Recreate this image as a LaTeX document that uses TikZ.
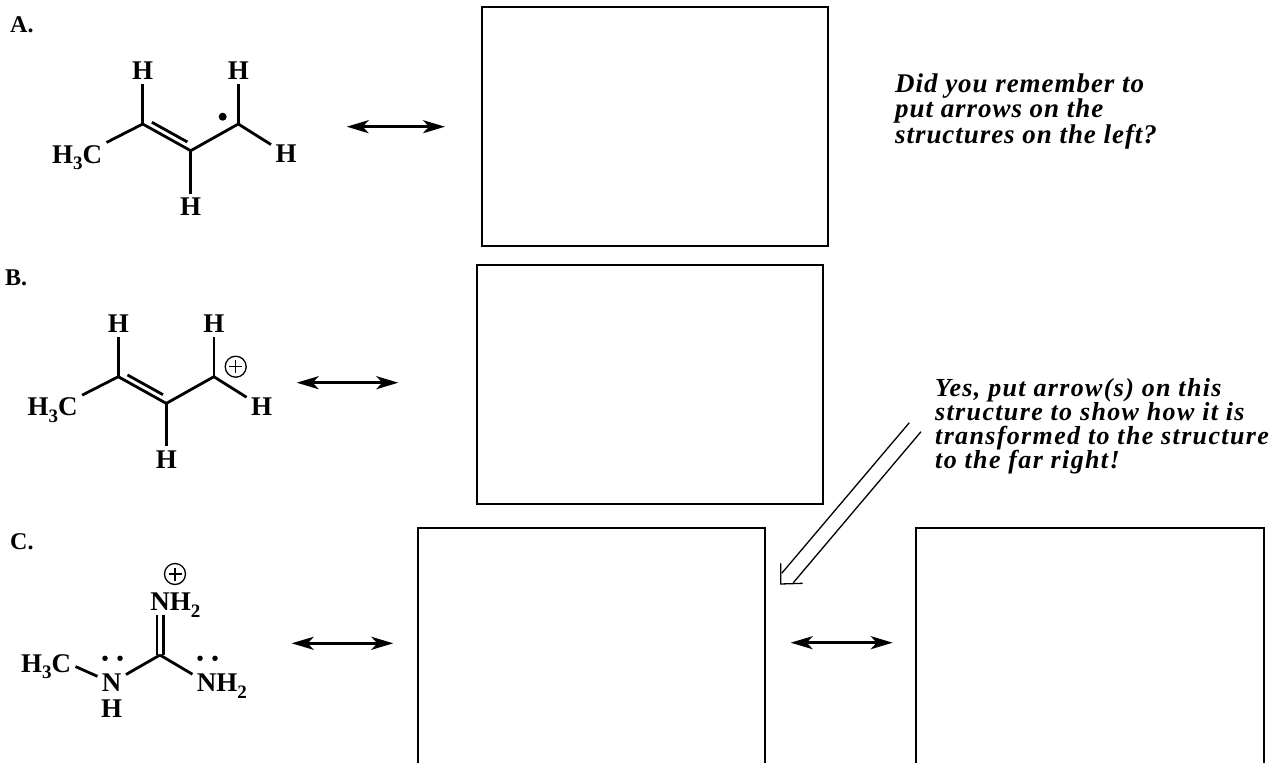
\documentclass[tikz,border=0pt]{standalone}
\usepackage{fontspec}
\setmainfont{Liberation Serif}
\newfontfamily\notefnt[LetterSpace=3.5]{Liberation Serif}
\newfontfamily\notefntb[LetterSpace=5.2]{Liberation Serif}
\usetikzlibrary{arrows.meta,calc}
\newcommand\chsub[1]{\raisebox{-0.25em}{\fontsize{19}{19}\selectfont #1}}
\tikzset{
  atom/.style={inner sep=0pt, outer sep=4.5pt, font=\fontsize{27}{27}\selectfont\bfseries},
  bond/.style={line width=2.8pt},
  resarrow/.style={line width=2.7pt, {Stealth[length=22pt,width=13pt,inset=6pt]}-{Stealth[length=22pt,width=13pt,inset=6pt]}},
  answerbox/.style={line width=2.2pt},
  hollowline/.style={line width=1.3pt},
  secname/.style={inner sep=0pt, anchor=base west, font=\fontsize{24}{24}\selectfont\bfseries},
  notetext/.style={inner sep=0pt, anchor=base west, font=\notefnt\bfseries\itshape\fontsize{27}{27}\selectfont},
  notetextb/.style={inner sep=0pt, anchor=base west, font=\notefntb\bfseries\itshape\fontsize{26}{26}\selectfont},
  lpdot/.style={circle, fill, inner sep=0pt, minimum size=5.5pt},
  raddot/.style={circle, fill, inner sep=0pt, minimum size=8pt},
  plusc/.style={circle, draw, line width=1.3pt, minimum size=21pt, inner sep=0pt,
    path picture={\draw[line width=1.3pt] ($(path picture bounding box.center)+(-6.5pt,0pt)$) -- ($(path picture bounding box.center)+(6.5pt,0pt)$);
                  \draw[line width=1.3pt] ($(path picture bounding box.center)+(0pt,-6.5pt)$) -- ($(path picture bounding box.center)+(0pt,6.5pt)$);}}
}
\begin{document}
\begin{tikzpicture}[x=1pt,y=-1pt]
\useasboundingbox (0,0) rectangle (1277,763);
\fill[white] (0,0) rectangle (1277,763);

% section labels
\node[secname] (labA) at (10,32.3) {A.};
\node[secname] (labB) at (5,285) {B.};
\node[secname] (labC) at (10,549) {C.};

% ---------- structure A ----------
\coordinate (a1) at (142.7,124);
\coordinate (a2) at (190.7,150.7);
\coordinate (a3) at (238.3,124);
\node[atom] (aHtl) at (142.7,70.7) {H};
\node[atom] (aHtr) at (238.3,70.7) {H};
\node[atom, anchor=base] (aMe) at (77,163) {H\chsub{3}C};
\node[atom] (aHr) at (286,154) {H};
\node[atom] (aHb) at (190.7,207) {H};
\draw[bond] (a1) -- (aHtl);
\draw[bond] (a1) -- (aMe);
\draw[bond] (a1) -- (a2);
\draw[bond] ($(a1)!0.13!(a2)+(2.92,-5.24)$) -- ($(a1)!0.87!(a2)+(2.92,-5.24)$);
\draw[bond] (a2) -- (aHb);
\draw[bond] (a2) -- (a3);
\draw[bond] (a3) -- (aHtr);
\draw[bond] (a3) -- (aHr);
\node[raddot] (aRad) at (222.7,116.7) {};
\coordinate (aArL) at (346.7,126.7);
\coordinate (aArR) at (445,126.7);
\draw[resarrow] (aArL) -- (aArR);

% ---------- structure B ----------
\begin{scope}[shift={(-24.4,252.7)}]
\coordinate (b1) at (142.7,124);
\coordinate (b2) at (190.7,150.7);
\coordinate (b3) at (238.3,124);
\node[atom] (bHtl) at (142.7,70.7) {H};
\node[atom] (bHtr) at (238.3,70.7) {H};
\node[atom, anchor=base] (bMe) at (77,163) {H\chsub{3}C};
\node[atom] (bHr) at (286,154) {H};
\node[atom] (bHb) at (190.7,207) {H};
\draw[bond] (b1) -- (bHtl);
\draw[bond] (b1) -- (bMe);
\draw[bond] (b1) -- (b2);
\draw[bond] ($(b1)!0.13!(b2)+(2.92,-5.24)$) -- ($(b1)!0.87!(b2)+(2.92,-5.24)$);
\draw[bond] (b2) -- (bHb);
\draw[bond] (b2) -- (b3);
\draw[bond] (b3) -- (bHtr);
\draw[bond] (b3) -- (bHr);
\end{scope}
\node[plusc] (bPlus) at (235.7,366.7) {};
\coordinate (bArL) at (296.7,382.7);
\coordinate (bArR) at (398.3,382.7);
\draw[resarrow] (bArL) -- (bArR);

% ---------- structure C ----------
\coordinate (cC) at (160,655);
\node[atom] (cNt) at (160,601.7) {N};
\node[atom, anchor=base west, outer sep=0pt] (cNtH) at ($(cNt.base east)+(-4.5,0)$) {H\chsub{2}};
\node[plusc] (cPlus) at (175,574) {};
\node[atom] (cNl) at (111.7,682.7) {N};
\node[atom] (cNlH) at (111.7,708.3) {H};
\node[atom] (cNr) at (206.7,682.7) {N};
\node[atom, anchor=base west, outer sep=0pt] (cNrH) at ($(cNr.base east)+(-4.5,0)$) {H\chsub{2}};
\node[atom, anchor=base] (cMe) at (46,672) {H\chsub{3}C};
\draw[bond, line width=2.5pt, double, double distance=4pt] (cC) -- (cNt);
\draw[bond] (cC) -- (cNl);
\draw[bond] (cC) -- (cNr);
\draw[bond] (cMe.east) -- (cNl);
\node[lpdot] (cLp1) at (105,658.3) {};
\node[lpdot] (cLp2) at (120,658.3) {};
\node[lpdot] (cLp3) at (200,658.3) {};
\node[lpdot] (cLp4) at (215,658.3) {};
\coordinate (cArL) at (291.7,643.3);
\coordinate (cArR) at (393.3,643.3);
\draw[resarrow] (cArL) -- (cArR);
\coordinate (dArL) at (790.7,642.7);
\coordinate (dArR) at (892.7,642.7);
\draw[resarrow] (dArL) -- (dArR);

% ---------- answer boxes ----------
\draw[answerbox] (482,7) rectangle (828,246);
\draw[answerbox] (477,265) rectangle (823,504);
\draw[answerbox] (418,763) -- (418,528) -- (765,528) -- (765,763);
\draw[answerbox] (916,763) -- (916,528) -- (1264,528) -- (1264,763);

% ---------- hollow arrow ----------
\coordinate (hU1) at (909.3,422.7);
\coordinate (hU2) at (781.7,573.3);
\coordinate (hL1) at (921,431.7);
\coordinate (hL2) at (793.3,582.7);
\coordinate (hA1) at (780.7,563.3);
\coordinate (hTip) at (780.7,584);
\coordinate (hA2) at (802.7,583.3);
\draw[hollowline] (hU1) -- (hU2);
\draw[hollowline] (hL1) -- (hL2);
\draw[hollowline, line join=miter] (hA1) -- (hTip) -- (hA2);

% ---------- notes ----------
\node[notetext] (n1a) at (895,92) {Did you remember to};
\node[notetext] (n1b) at (895,117.5) {put arrows on the};
\node[notetext] (n1c) at (895,143) {structures on the left?};
\node[notetextb] (n2a) at (935,396) {Yes, put arrow(s) on this};
\node[notetextb] (n2b) at (935,420) {structure to show how it is};
\node[notetextb] (n2c) at (935,444) {transformed to the structure};
\node[notetextb] (n2d) at (935,468) {to the far right!};
\end{tikzpicture}
\end{document}
